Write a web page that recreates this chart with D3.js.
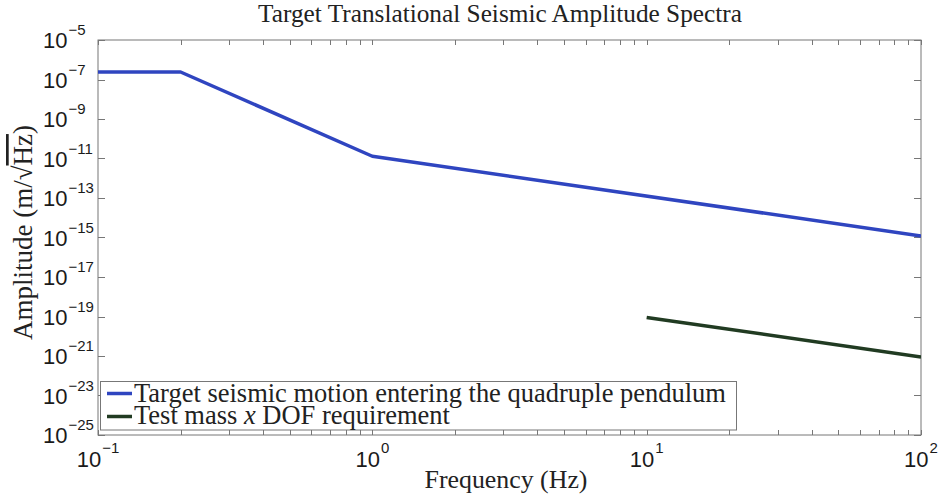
<!DOCTYPE html>
<html>
<head>
<meta charset="utf-8">
<script src="https://cdn.jsdelivr.net/npm/d3@7"></script>
<style>
  html, body { margin: 0; padding: 0; background: #fff; }
  svg { display: block; }
</style>
</head>
<body>
<svg id="chart" width="940" height="499"></svg>
<script>
// Spectra: frequency breakpoints (Hz) and amplitudes (m/sqrt(Hz))
const seismicFreq = [0.1, 0.2, 1, 100];
const seismicAmp  = [2.4e-7, 2.4e-7, 1.3e-11, 1.2e-15];
const reqFreq = [10, 100];
const reqAmp  = [9e-20, 9e-22];

const seriesNames = [
  "Target seismic motion entering the quadruple pendulum",
  "Test mass x DOF requirement"
];
const seriesColors = ["#2f45c0", "#213b22"];

const xTickValues = [0.1, 1, 10, 100];
const xTickExps   = ["−1", "0", "1", "2"];
const yTickValues = [1e-5, 1e-7, 1e-9, 1e-11, 1e-13, 1e-15, 1e-17, 1e-19, 1e-21, 1e-23, 1e-25];
const yTickExps   = ["−5", "−7", "−9", "−11", "−13", "−15", "−17", "−19", "−21", "−23", "−25"];

const titleText = "Target Translational Seismic Amplitude Spectra";
const xLabelText = "Frequency (Hz)";

const serif = "'Liberation Serif', 'Times New Roman', serif";
const sans = "'Liberation Sans', Arial, Helvetica, sans-serif";

const svg = d3.select("#chart");
const plot = { left: 98, right: 921, top: 40, bottom: 435 };

const x = d3.scaleLog().domain([0.1, 100]).range([plot.left, plot.right]);
const y = d3.scaleLog().domain([1e-25, 1e-5]).range([plot.bottom, plot.top]);

// scale a text element's font so it spans the given width
function fitWidth(sel, target) {
  const base = parseFloat(sel.attr("font-size"));
  const w = sel.node().getComputedTextLength();
  sel.attr("font-size", (base * target / w).toFixed(2));
}

// plot frame
svg.append("rect")
  .attr("x", plot.left).attr("y", plot.top)
  .attr("width", plot.right - plot.left).attr("height", plot.bottom - plot.top)
  .attr("fill", "#fff").attr("stroke", "#777").attr("stroke-width", 1);

// x ticks: majors plus 2..9 minors, on bottom and top, pointing inward
const xMinor = [];
for (const dec of [0.1, 1, 10]) for (let k = 2; k <= 9; k++) xMinor.push(dec * k);
const xAllTicks = xTickValues.concat(xMinor);
const tickG = svg.append("g").attr("stroke", "#777").attr("stroke-width", 1);
xAllTicks.forEach(v => {
  const px = Math.round(x(v)) + 0.5;
  tickG.append("line").attr("x1", px).attr("x2", px).attr("y1", plot.bottom).attr("y2", plot.bottom - 5);
  tickG.append("line").attr("x1", px).attr("x2", px).attr("y1", plot.top).attr("y2", plot.top + 5);
});
yTickValues.forEach(v => {
  const py = Math.round(y(v)) + 0.5;
  tickG.append("line").attr("x1", plot.left).attr("x2", plot.left + 7).attr("y1", py).attr("y2", py);
  tickG.append("line").attr("x1", plot.right).attr("x2", plot.right - 7).attr("y1", py).attr("y2", py);
});

// x tick labels: 10 with superscript exponent, centred on the tick
xTickValues.forEach((v, i) => {
  const t = svg.append("text")
    .attr("x", x(v)).attr("y", 467)
    .attr("text-anchor", "middle")
    .attr("font-family", sans).attr("fill", "#1a1a1a");
  t.append("tspan").attr("font-size", 22).text("10");
  t.append("tspan").attr("font-size", 15).attr("dy", -14).attr("dx", 1).text(xTickExps[i]);
});

// y tick labels: left aligned, centred on the tick
yTickValues.forEach((v, i) => {
  const t = svg.append("text")
    .attr("x", 43).attr("y", y(v) + 8)
    .attr("font-family", sans).attr("fill", "#1a1a1a");
  t.append("tspan").attr("font-size", 22).text("10");
  t.append("tspan").attr("font-size", 15).attr("dy", -13).attr("dx", 1).text(yTickExps[i]);
});

// spectra lines
const line = d3.line().x(d => x(d[0])).y(d => y(d[1]));
svg.append("clipPath").attr("id", "plotclip").append("rect")
  .attr("x", plot.left).attr("y", plot.top)
  .attr("width", plot.right - plot.left).attr("height", plot.bottom - plot.top);

const series = [
  d3.zip(seismicFreq, seismicAmp),
  d3.zip(reqFreq, reqAmp)
];
series.forEach((pts, i) => {
  svg.append("path")
    .attr("d", line(pts))
    .attr("fill", "none")
    .attr("stroke", seriesColors[i])
    .attr("stroke-width", 3.5)
    .attr("stroke-linejoin", "round")
    .attr("clip-path", "url(#plotclip)");
});

// legend
const legend = svg.append("g");
legend.append("rect")
  .attr("x", 100.5).attr("y", 381.5).attr("width", 636).attr("height", 48.5)
  .attr("fill", "#fff").attr("stroke", "#777").attr("stroke-width", 1);
const rowY = [393.5, 416.5];
seriesNames.forEach((name, i) => {
  legend.append("line")
    .attr("x1", 107).attr("x2", 132).attr("y1", rowY[i]).attr("y2", rowY[i])
    .attr("stroke", seriesColors[i]).attr("stroke-width", 3.5);
});
const leg1 = legend.append("text")
  .attr("x", 134).attr("y", 401.5)
  .attr("font-family", serif).attr("font-size", 24).attr("fill", "#222")
  .text(seriesNames[0]);
fitWidth(leg1, 592);
const fs = leg1.attr("font-size");
const leg2 = legend.append("text")
  .attr("x", 134).attr("y", 423.5)
  .attr("font-family", serif).attr("font-size", fs).attr("fill", "#222");
leg2.append("tspan").text("Test mass ");
leg2.append("tspan").attr("font-style", "italic").text("x");
leg2.append("tspan").text(" DOF requirement");

// title
const title = svg.append("text")
  .attr("x", 500).attr("y", 22)
  .attr("text-anchor", "middle")
  .attr("font-family", serif).attr("font-size", 22).attr("fill", "#222")
  .text(titleText);
fitWidth(title, 484);

// x axis label
const xl = svg.append("text")
  .attr("x", 506).attr("y", 488)
  .attr("text-anchor", "middle")
  .attr("font-family", serif).attr("font-size", 21).attr("fill", "#222")
  .text(xLabelText);
fitWidth(xl, 163);

// y axis label with a radical over Hz
const yl = svg.append("text")
  .attr("transform", "translate(32,232.5) rotate(-90)")
  .attr("text-anchor", "middle")
  .attr("font-family", serif).attr("font-size", 22).attr("fill", "#222");
yl.append("tspan").text("Amplitude (m/√");
yl.append("tspan").attr("text-decoration", "overline").text("Hz");
yl.append("tspan").text(")");
fitWidth(yl, 215);
</script>
</body>
</html>
